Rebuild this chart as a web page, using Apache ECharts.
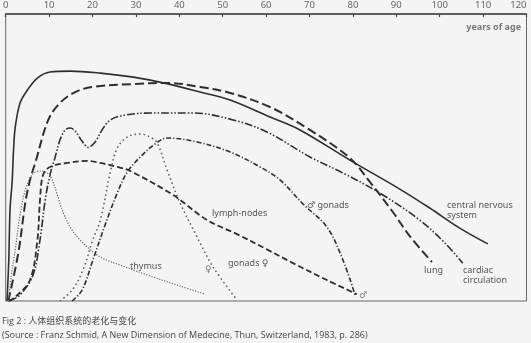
<!DOCTYPE html>
<html>
<head>
<meta charset="utf-8">
<style>
  html, body { margin: 0; padding: 0; background: #f4f4f4; }
  #chart { width: 531px; height: 343px; }
</style>
<script src="https://cdn.jsdelivr.net/npm/echarts@6/dist/echarts.min.js"></script>
</head>
<body>
<div id="chart"></div>
<script>
// Ages along the top axis
const ageTicks = [0, 10, 20, 30, 40, 50, 60, 70, 80, 90, 100, 110, 120];

// Each curve: [age in years, relative functional level 0-100]
const centralNervous = [
  [0.3, 0], [0.7, 14], [1.0, 32], [1.5, 42], [1.8, 52.6], [2.2, 60.6], [3.3, 69],
  [5.0, 73.5], [7.3, 77.7], [10.2, 79.8], [14.9, 80.1], [21.8, 79.4], [29.4, 78],
  [36.3, 76], [44.8, 72.8], [51.7, 70], [60.9, 64.1], [67.8, 59.6], [79.3, 49.1],
  [90.8, 39], [97.7, 32.4], [104.6, 25.4], [111.1, 19.9]
];
const lung = [
  [0.6, 0], [2.9, 16.7], [4.5, 34.1], [5.6, 42.2], [6.8, 48.1], [9.8, 63.1],
  [12.5, 69], [16.0, 72.8], [20.1, 74.6], [29.4, 75.6], [37.2, 76], [44.8, 74.6],
  [51.7, 72.5], [60.9, 67.6], [70.1, 59.6], [79.3, 49.8], [83.9, 41.5],
  [89.2, 31], [93.1, 22.6], [98.2, 13.6]
];
const cardiac = [
  [0.8, 0], [3.3, 2.1], [6.3, 9.1], [7.9, 21.3], [9.1, 35.2], [10.2, 43.9],
  [11.4, 50.2], [12.5, 56.1], [13.7, 59.6], [14.9, 60.3], [16.0, 59.2],
  [17.6, 55.7], [19.0, 53.5], [20.6, 55.4], [22.2, 59.6], [24.1, 63.1],
  [27.5, 64.8], [33.3, 65.5], [43.2, 65.5], [52.4, 63.1], [60.2, 58.9],
  [70.1, 50.2], [77.7, 44.6], [86.2, 37.6], [95.4, 28.2], [101.2, 20.2], [105.3, 13.2]
];
const lymphNodes = [
  [0.6, 0], [2.2, 1.4], [5.6, 7.3], [7.3, 21.3], [7.9, 35.2], [8.6, 43.9],
  [10.2, 46.7], [14.2, 48.1], [18.8, 48.8], [21.8, 48.1], [25.7, 46.7],
  [28.7, 45.3], [38.6, 36.9], [46.4, 28.2], [53.3, 23.3], [60.4, 17.8],
  [66.2, 13.2], [74.0, 7.3], [80.9, 2.4]
];
const gonadsMale = [
  [15.3, 0], [17.6, 3.8], [20.1, 14.3], [22.9, 26.5], [25.7, 37.6], [28.0, 44.9],
  [31.0, 50.2], [34.4, 54.7], [37.2, 56.8], [44.1, 55.4], [51.7, 51.9],
  [58.6, 46.7], [63.2, 42.2], [68.5, 33.8], [74.0, 25.8], [77.7, 14.3], [80.5, 2.1]
];
const gonadsFemale = [
  [12.5, 0], [15.3, 3.8], [17.8, 10.8], [20.0, 21], [21.8, 28.2], [24.1, 44.9],
  [25.7, 53.3], [28.0, 57.1], [31.0, 58.2], [33.3, 57.1], [34.9, 55.1],
  [37.2, 45.6], [40.2, 34.1], [44.1, 22.3], [47.8, 11.8], [53.3, 0.3]
];
const thymus = [
  [0.6, 0], [1.3, 9.1], [2.2, 17.8], [3.3, 30], [4.7, 39.7], [6.3, 44.3],
  [7.9, 45.3], [9.6, 44.6], [10.7, 42.2], [11.9, 36.9], [13.2, 31],
  [15.3, 24.7], [18.3, 19.5], [21.8, 15.3], [26.4, 12.5], [33.3, 8.7],
  [40.2, 5.2], [45.9, 2.4]
];

const ink = '#2e2e2e';
const labelFont = '9px "Noto Sans", "DejaVu Sans", sans-serif';
const captionFont = '9px "Open Sans", "Noto Sans CJK SC", sans-serif';
const chart = echarts.init(document.getElementById('chart'), null, { renderer: 'canvas' });

function curve(name, data, width, type, color) {
  return {
    name, type: 'line', data, symbol: 'none', smooth: 0.35,
    silent: true,
    lineStyle: { color: color || ink, width, type, cap: 'butt' }
  };
}

const txt = (x, y, text, extra) => Object.assign({
  type: 'text', x, y, silent: true,
  style: Object.assign({
    text, fill: '#555', font: labelFont,
    textVerticalAlign: 'middle'
  }, extra || {})
});

chart.setOption({
  backgroundColor: '#f4f4f4',
  animation: false,
  grid: {
    left: 5.5, right: 4.5, top: 14, bottom: 42,
    show: true, borderColor: '#666', borderWidth: 1, backgroundColor: 'transparent'
  },
  xAxis: {
    type: 'value', position: 'top', min: 0, max: 120, interval: 10,
    axisLine: { show: true, onZero: false, lineStyle: { color: '#444', width: 1.5 } },
    axisTick: { show: true, inside: true, length: 3, lineStyle: { color: '#444', width: 1.2 } },
    axisLabel: {
      color: '#666', fontSize: 9.5, margin: 4, fontFamily: '"Noto Sans", sans-serif',
      alignMaxLabel: 'right',
      formatter: v => ageTicks.includes(v) ? String(v) : ''
    },
    splitLine: { show: false }
  },
  yAxis: { type: 'value', min: 0, max: 100, show: false },
  series: [
    curve('central nervous system', centralNervous, 1.6, 'solid'),
    curve('lung', lung, 2, [9, 4]),
    curve('cardiac circulation', cardiac, 1.6, [8, 2, 1.5, 2, 1.5, 2]),
    curve('lymph-nodes', lymphNodes, 1.8, [6, 3]),
    curve('gonads male', gonadsMale, 1.6, [5, 2, 1.2, 2]),
    curve('gonads female', gonadsFemale, 1.5, [1.5, 3], '#555'),
    curve('thymus', thymus, 1.2, [1.2, 1.5], '#666')
  ],
  graphic: [
    txt(521, 27, 'years of age', { textAlign: 'right', font: 'bold 9px "Noto Sans", "DejaVu Sans", sans-serif', fill: '#777' }),
    txt(447, 205, 'central nervous'),
    txt(447, 215, 'system'),
    txt(424, 270, 'lung'),
    txt(463, 270, 'cardiac'),
    txt(463, 280, 'circulation'),
    txt(307, 205, '♂ gonads'),
    txt(359, 295, '♂', { fill: '#777' }),
    txt(212, 213, 'lymph-nodes'),
    txt(130, 266, 'thymus'),
    txt(205, 269, '♀', { fill: '#777' }),
    txt(228, 263, 'gonads ♀'),
    txt(2, 321, 'Fig 2 : 人体组织系统的老化与变化', { fill: '#444', font: captionFont }),
    txt(2, 335, '(Source : Franz Schmid, A New Dimension of Medecine, Thun, Switzerland, 1983, p. 286)', { fill: '#444', font: captionFont })
  ]
});
</script>
</body>
</html>
